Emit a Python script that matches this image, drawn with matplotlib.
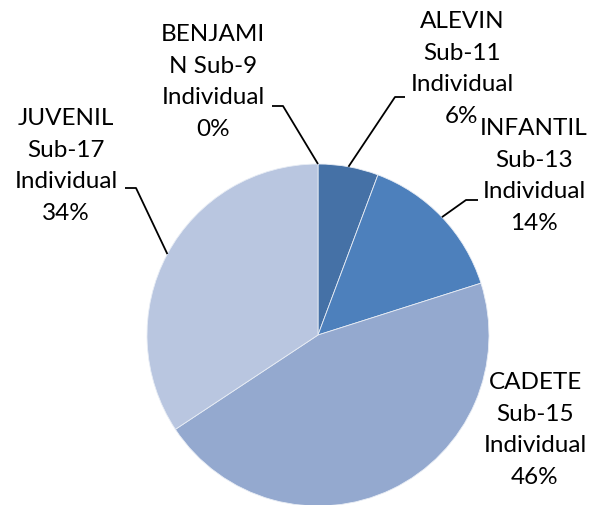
import numpy as np
import matplotlib.pyplot as plt

# datos del grafico (porcentaje por categoria)
categorias = ["BENJAMIN Sub-9 Individual", "ALEVIN Sub-11 Individual",
              "INFANTIL Sub-13 Individual", "CADETE Sub-15 Individual",
              "JUVENIL Sub-17 Individual"]
valores = [0.0, 5.7, 14.4, 45.6, 34.3]
etiquetas = ["BENJAMI\nN Sub-9\nIndividual", "ALEVIN\nSub-11\nIndividual",
             "INFANTIL\nSub-13\nIndividual", "CADETE\nSub-15\nIndividual",
             "JUVENIL\nSub-17\nIndividual"]
colores = ["#3C6497", "#4571A6", "#4D80BC", "#94A9CF", "#B9C6E0"]

W, H = 603, 506
fig = plt.figure(figsize=(W / 100, H / 100), dpi=100)
ax = fig.add_axes([0, 0, 1, 1])

cx, cy, r = 318, H - 336, 171
wedges, _ = ax.pie(valores, colors=colores, startangle=90, counterclock=False,
                   center=(cx, cy), radius=r,
                   wedgeprops=dict(edgecolor="#e8edf5", linewidth=0.6))
ax.set_xlim(0, W)
ax.set_ylim(0, H)
ax.set_aspect("equal")
ax.axis("off")

# posicion del texto (x, y en pixeles desde arriba) y codo de la linea guia
pos_texto = [(213, 82), (462, 69), (534, 176), (535, 430), (66, 166)]
codos = [((283, 107), (272, 107)), ((395, 98), (405, 98)),
         ((466, 201), (478, 201)), None, ((136, 189), (125, 189))]

total = sum(valores)
for w, txt, v, (tx, ty), codo in zip(wedges, etiquetas, valores, pos_texto, codos):
    label = f"{txt}\n{v / total * 100:.0f}%"
    ax.text(tx, H - ty, label, ha="center", va="center", multialignment="center",
            fontsize=17.5, family=["Lato", "DejaVu Sans"], linespacing=1.62,
            color="black")
    if codo is not None:
        ang = np.deg2rad((w.theta1 + w.theta2) / 2)
        x0, y0 = cx + r * np.cos(ang), cy + r * np.sin(ang)
        (kx, ky), (ex, ey) = codo
        ax.plot([x0, kx, ex], [y0, H - ky, H - ey], color="black", lw=1.3,
                solid_capstyle="butt")

fig.savefig("out.png", dpi=100)
